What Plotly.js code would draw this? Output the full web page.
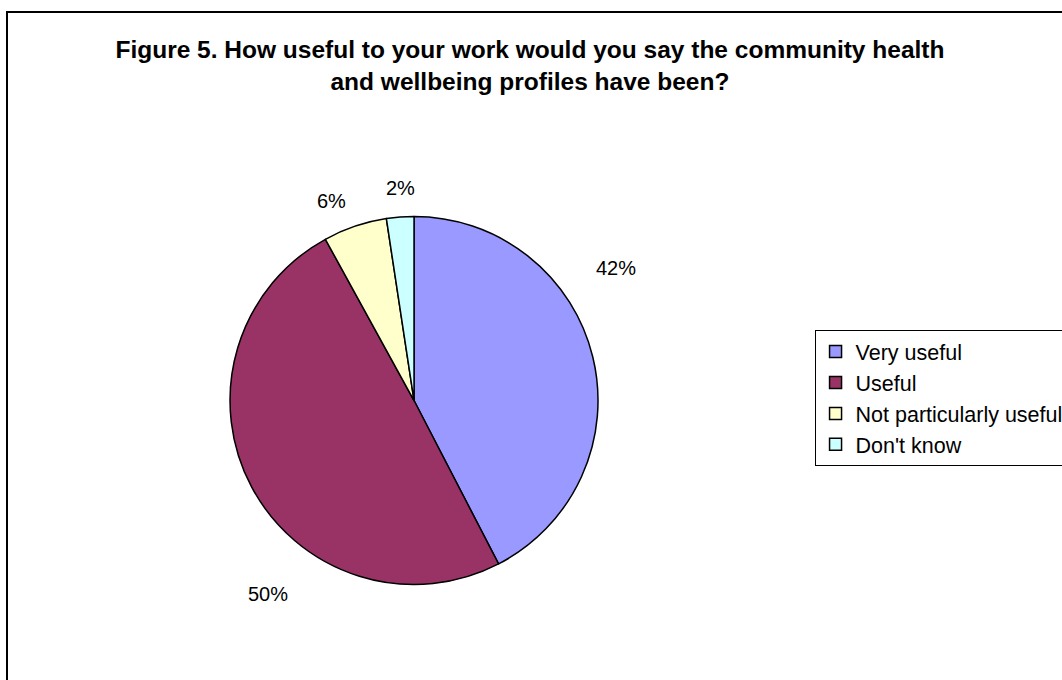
<!DOCTYPE html>
<html>
<head>
<meta charset="utf-8">
<script src="https://cdn.plot.ly/plotly-3.0.1.min.js"></script>
<style>
  html, body { margin: 0; padding: 0; background: #ffffff; }
  #chart { width: 1062px; height: 680px; }
</style>
</head>
<body>
<div id="chart"></div>
<script>
// Data (percent of respondents)
const categories = ["Very useful", "Useful", "Not particularly useful", "Don't know"];
const values = [42.4, 49.6, 5.6, 2.4];
const sliceColors = ["#9999FF", "#993366", "#FFFFCC", "#CCFFFF"];
// Label anchor positions (paper coords) for the outside percentage labels
const labelX = [0.580, 0.252, 0.3125, 0.3775];
const labelY = [0.606, 0.126, 0.7045, 0.7235];

const total = values.reduce((a, b) => a + b, 0);
const FONT = "Liberation Sans, Arial, sans-serif";

const annotations = categories.map((c, i) => ({
  xref: "paper", yref: "paper",
  x: labelX[i], y: labelY[i],
  xanchor: "center", yanchor: "middle",
  text: Math.round(values[i] / total * 100) + "%",
  showarrow: false,
  font: { family: FONT, size: 20, color: "#000000" }
}));

const trace = {
  type: "pie",
  labels: categories,
  values: values,
  sort: false,
  direction: "clockwise",
  rotation: 0,
  textinfo: "none",
  hoverinfo: "label+percent",
  marker: { colors: sliceColors, line: { color: "#000000", width: 1.5 } },
  domain: { x: [0.2166, 0.5631], y: [0.1404, 0.6816] }
};

const layout = {
  width: 1062,
  height: 680,
  margin: { l: 0, r: 0, t: 0, b: 0, autoexpand: false },
  paper_bgcolor: "#ffffff",
  plot_bgcolor: "#ffffff",
  font: { family: FONT, color: "#000000" },
  title: {
    text: "<b>Figure 5. How useful to your work would you say the community health<br>and wellbeing profiles have been?</b>",
    font: { family: FONT, size: 24.5, color: "#000000" },
    x: 0.499, xanchor: "center",
    y: 1 - 58 / 680, yanchor: "middle",
    xref: "paper", yref: "container"
  },
  showlegend: true,
  legend: {
    x: 0.767, xanchor: "left",
    y: 0.5147, yanchor: "top",
    bordercolor: "#000000",
    borderwidth: 1,
    bgcolor: "#ffffff",
    font: { family: FONT, size: 21.5, color: "#000000" },
    traceorder: "normal"
  },
  annotations: annotations,
  shapes: [{
    type: "rect", xref: "paper", yref: "paper",
    x0: 7 / 1062, x1: 1.05, y0: -0.05, y1: 1 - 12 / 680,
    line: { color: "#000000", width: 2 }, fillcolor: "rgba(0,0,0,0)"
  }]
};

Plotly.newPlot("chart", [trace], layout, { displayModeBar: false, responsive: false });
</script>
</body>
</html>
